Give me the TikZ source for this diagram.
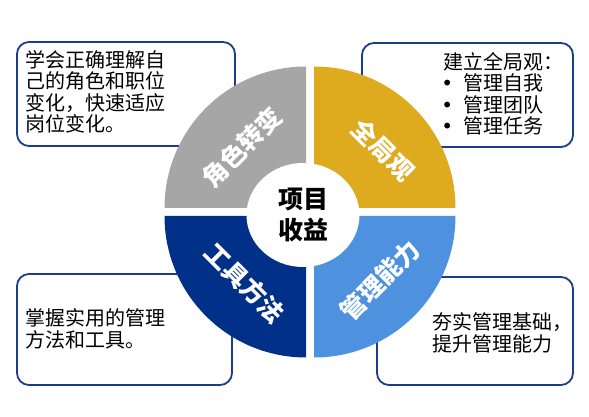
\documentclass[tikz,border=0pt]{standalone}
\usepackage{fontspec}
\setmainfont{Noto Sans CJK SC}
\newfontfamily\dotfont{DejaVu Sans}
\usetikzlibrary{shapes.geometric}
\definecolor{roleGray}{RGB}{166,166,166}
\definecolor{viewGold}{RGB}{222,171,30}
\definecolor{toolBlue}{RGB}{0,48,135}
\definecolor{skillBlue}{RGB}{78,146,223}
\definecolor{frameBlue}{RGB}{30,60,140}
\newcommand{\dotitem}{\makebox[8pt][c]{\dotfont •}\hspace{12pt}}

\begin{document}
\begin{tikzpicture}[
  x=1pt, y=1pt,
  every node/.style={align=left},
  note/.style={draw=frameBlue, line width=1.8pt, rounded corners=12pt, fill=white},
  notetext/.style={anchor=north west, inner sep=0pt, font=\fontsize{20}{21.5}\selectfont},
  sectortext/.style={text=white, font=\fontsize{25}{27}\selectfont\bfseries}
]
  \useasboundingbox (0,0) rectangle (589,417);

  % Boxes round the circle
  \node[note, minimum width=218pt, minimum height=104pt] (roleNote) at (126,323) {};
  \node[note, minimum width=211pt, minimum height=104pt] (viewNote) at (467.5,322) {};
  \node[note, minimum width=215pt, minimum height=111pt] (toolNote) at (124.5,87.5) {};
  \node[note, minimum width=196pt, minimum height=108pt] (skillNote) at (475,86) {};

  % Texts in the boxes
  \node[notetext] (roleText) at (25,367) {学会正确理解自\\己的角色和职位\\变化，快速适应\\岗位变化。};
  \node[notetext] (viewText) at (443,365) {建立全局观：\\
    \dotitem 管理自我\\
    \dotitem 管理团队\\
    \dotitem 管理任务};
  \node[notetext] (toolText) at (25,108.4) {掌握实用的管理\\方法和工具。};
  \node[notetext] (skillText) at (432,104.4) {夯实管理基础，\\提升管理能力};

  % Four quarters
  \fill[roleGray] (306,209) -- ++(-141.5,0) arc (180:90:141.5) -- cycle;
  \fill[viewGold] (314,209) -- ++(0,141.5) arc (90:0:141.5) -- cycle;
  \fill[toolBlue] (306,201) -- ++(0,-141.5) arc (270:180:141.5) -- cycle;
  \fill[skillBlue] (314,201) -- ++(141.5,0) arc (0:-90:141.5) -- cycle;

  % Hole in the middle
  \node[ellipse, fill=white, minimum width=113pt, minimum height=104pt, inner sep=0pt,
    align=center, font=\fontsize{25}{31}\selectfont\bfseries] (hub) at (303,202) {项目\\收益};

  % Quarter titles
  \node[sectortext, rotate=45] (role) at (242,270) {角色转变};
  \node[sectortext, rotate=-45] (view) at (383,267) {全局观};
  \node[sectortext, rotate=-45] (tools) at (245,134) {工具方法};
  \node[sectortext, rotate=45] (skill) at (380,137) {管理能力};
\end{tikzpicture}
\end{document}
